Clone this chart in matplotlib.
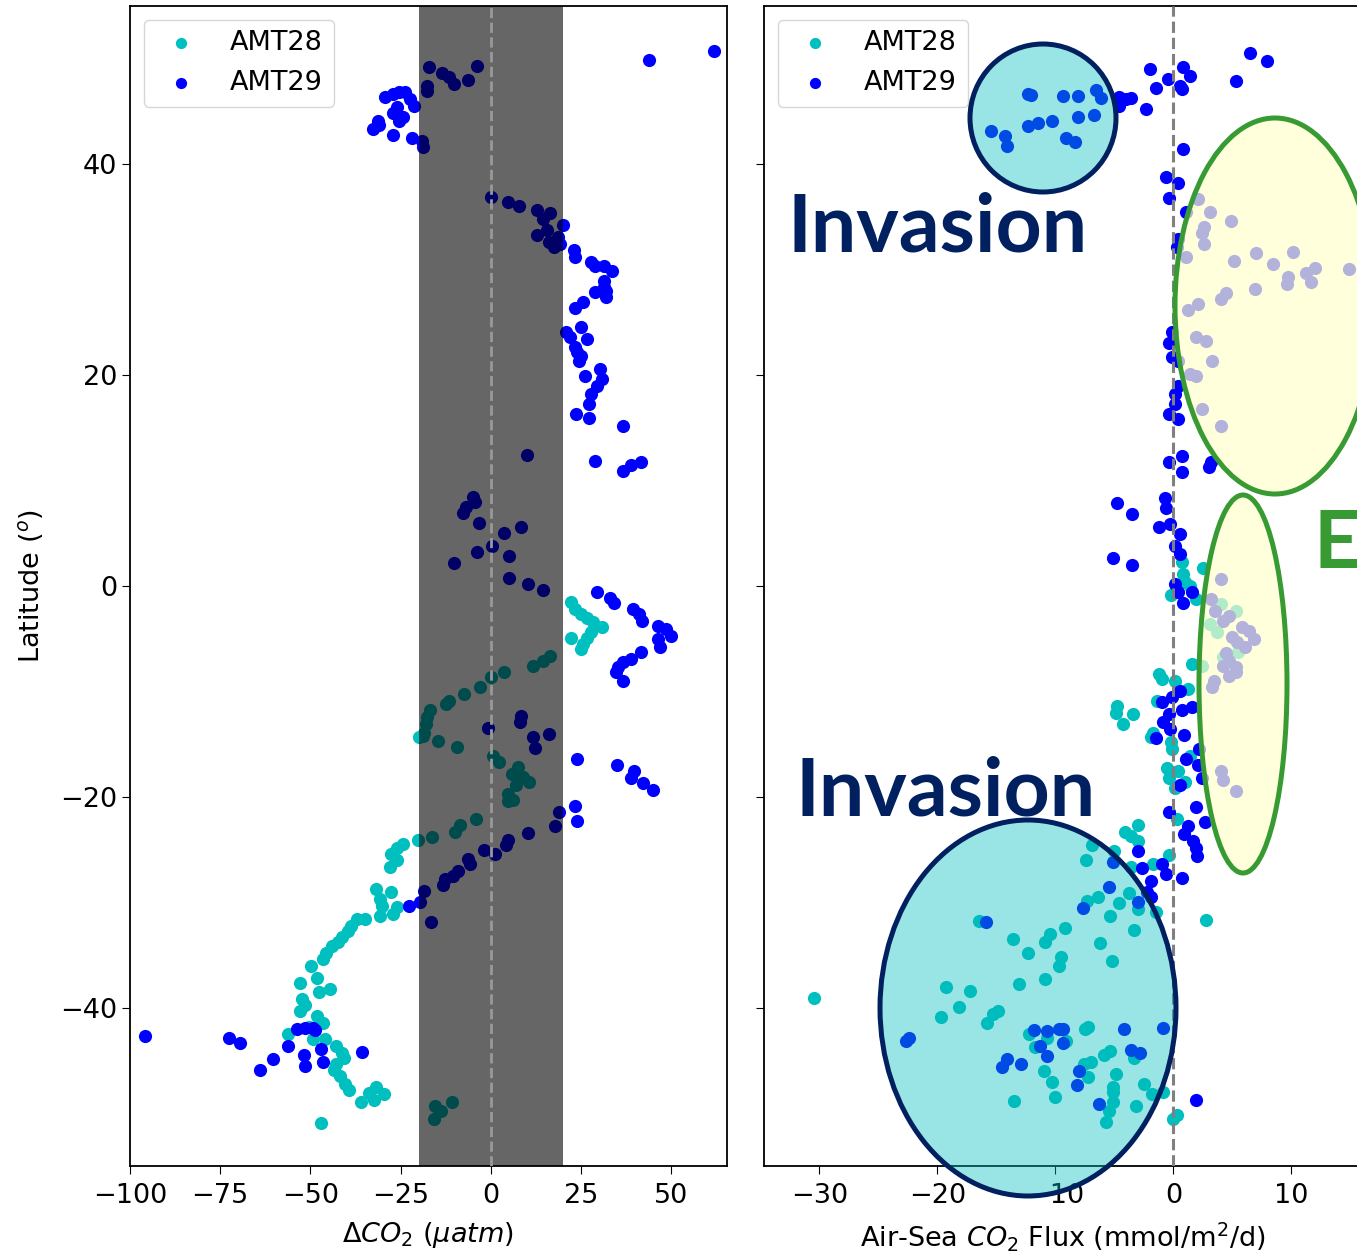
import numpy as np
import matplotlib
matplotlib.use("Agg")
from matplotlib import pyplot as plt
from matplotlib.patches import Ellipse

# (dCO2 [uatm], latitude)
amt29_dco2 = np.array([
    (61.8, 50.7), (43.7, 49.9),
    (-17.2, 49.2), (-13.5, 48.6), (-11.7, 48.3), (-10.3, 47.6), (-6.4, 48.0), (-4.0, 49.3), (-17.8, 47.4), (-17.6, 46.9),
    (-29.3, 46.4), (-27.1, 46.7), (-25.5, 46.8), (-23.9, 46.8), (-22.3, 46.2), (-21.3, 45.5), (-26.0, 45.4), (-27.1, 44.9),
    (-24.5, 44.5), (-25.5, 44.1), (-31.4, 44.1), (-30.9, 43.7), (-32.7, 43.3), (-27.1, 42.8), (-21.8, 42.5), (-19.1, 42.2), (-18.8, 41.6),
    (0.0, 36.9), (4.6, 36.4), (7.8, 36.0), (12.8, 35.7), (16.3, 35.4), (14.4, 34.8), (15.4, 33.8), (12.8, 33.3), (16.0, 32.6),
    (17.6, 32.1), (18.6, 33.1), (19.1, 32.4),
    (20.0, 34.2), (22.9, 31.9), (23.4, 31.2), (27.7, 30.7), (28.7, 30.3), (31.4, 30.3), (33.5, 29.9), (31.4, 28.9), (31.2, 28.4),
    (28.7, 27.9), (31.9, 28.0), (31.9, 27.4), (25.5, 26.9), (23.4, 26.4), (25.0, 24.6), (20.7, 24.1), (21.8, 23.6), (26.6, 23.4),
    (23.4, 22.7), (23.9, 22.2), (25.0, 21.8), (24.5, 21.3), (30.3, 20.6), (26.1, 19.9), (30.9, 19.6), (29.3, 19.0), (27.7, 18.2),
    (27.1, 17.3), (23.7, 16.3), (27.1, 15.9), (36.7, 15.2), (28.7, 11.9), (36.7, 10.9), (38.8, 11.5), (41.5, 11.8), (10.1, 12.4),
    (-5.1, 8.4), (-4.3, 8.0), (-6.9, 7.5), (-7.8, 6.9), (-3.2, 6.0), (3.7, 5.0), (8.2, 5.6), (0.3, 3.8), (-4.0, 3.2), (5.0, 2.8),
    (-10.1, 2.2), (5.1, 0.8), (10.2, 0.2), (14.4, -0.4),
    (29.5, -0.6), (33.0, -1.1), (34.0, -1.6), (39.4, -2.2), (41.0, -2.7), (41.8, -3.3), (46.3, -3.8), (48.4, -4.1), (50.0, -4.7),
    (46.3, -5.0), (46.8, -5.8), (41.5, -6.3), (38.8, -6.9), (36.7, -7.2), (35.1, -7.7), (34.6, -8.2), (36.7, -9.0),
    (8.2, -12.3), (8.0, -12.9), (-0.7, -13.5), (11.7, -14.3), (16.0, -14.0), (12.2, -15.4),
    (23.9, -16.4), (34.8, -17.0), (39.7, -17.5), (38.8, -18.2), (42.0, -18.7), (45.0, -19.3),
    (23.3, -20.9), (23.8, -22.3), (18.8, -21.4), (17.7, -22.8), (10.4, -23.4), (4.8, -24.1), (4.2, -24.6), (1.1, -25.4),
    (-1.8, -25.0), (-6.4, -25.9), (-5.8, -26.4), (-9.0, -27.0), (-10.6, -27.5), (-12.7, -27.8), (-13.2, -28.4), (-18.5, -28.9),
    (-19.6, -30.0), (-22.8, -30.3), (-16.7, -31.9),
    (-95.9, -42.7), (-72.6, -42.9), (-69.4, -43.3), (-53.8, -42.0), (-51.4, -41.9), (-49.3, -41.9), (-48.7, -42.1), (-56.1, -43.6),
    (-51.9, -44.5), (-51.4, -45.5), (-47.1, -43.9), (-46.6, -45.1), (-60.4, -44.9), (-63.9, -45.9), (-35.8, -44.2),
])

amt28_dco2 = np.array([
    (22.3, -1.5), (23.4, -2.2), (25.0, -2.7), (26.6, -3.0), (28.2, -3.4), (30.9, -3.9), (27.7, -4.4), (26.6, -4.9), (25.5, -5.5),
    (25.0, -6.0), (22.3, -4.9),
    (16.5, -6.6), (14.4, -7.1), (11.7, -7.6), (3.7, -8.2), (0.0, -8.6), (-2.9, -9.6), (-7.4, -10.2), (-11.7, -10.9), (-12.4, -11.2),
    (-17.0, -11.8), (-17.6, -12.4), (-18.1, -13.1), (-18.6, -13.9), (-18.8, -14.2), (-14.6, -14.7), (-9.3, -15.3), (-20.0, -14.3),
    (0.5, -16.1), (2.1, -16.7), (7.4, -17.2), (5.9, -17.8), (9.0, -18.1), (10.6, -18.6), (6.9, -18.9), (4.8, -19.7), (6.0, -20.3),
    (-20.1, -24.1), (-16.4, -23.8), (-10.0, -23.3), (-8.5, -22.7), (-4.2, -22.1), (4.8, -20.4),
    (-24.4, -24.5), (-26.0, -24.8), (-27.6, -25.4), (-26.0, -26.0), (-28.0, -26.6),
    (-31.8, -28.7), (-27.6, -29.0), (-30.7, -29.7), (-30.2, -30.3), (-26.0, -30.4), (-30.7, -31.3), (-27.0, -31.1),
    (-35.0, -31.6), (-37.1, -31.6), (-38.7, -32.2), (-39.7, -32.7), (-41.3, -33.3), (-42.4, -33.8), (-44.0, -34.1), (-45.6, -34.8),
    (-46.6, -35.4), (-49.8, -36.0), (-48.2, -37.2), (-53.0, -37.6), (-47.7, -38.5), (-44.5, -38.2), (-52.4, -39.2), (-51.4, -39.7),
    (-53.0, -40.3), (-48.2, -40.8), (-46.6, -41.4), (-50.3, -41.8), (-56.1, -42.5), (-49.3, -43.0), (-46.1, -43.0), (-42.9, -43.6),
    (-41.3, -44.3), (-40.8, -44.8), (-42.9, -45.3), (-43.4, -45.9), (-41.8, -46.5), (-40.3, -47.2), (-39.2, -47.8), (-31.8, -47.5),
    (-33.9, -48.1), (-36.0, -48.9), (-29.7, -48.2), (-32.3, -48.7), (-47.1, -50.9),
    (-15.4, -49.3), (-13.8, -49.8), (-10.9, -48.9), (-15.9, -50.5),
])

# (flux [mmol/m2/d], latitude)
amt29_flux = np.array([
    (-12.3, 46.7), (-12.1, 46.6), (-9.4, 46.5), (-8.1, 46.5), (-6.6, 47.0), (-6.1, 46.3), (-8.1, 44.5), (-6.7, 44.7), (-10.3, 44.1),
    (-11.5, 43.9), (-12.3, 43.6), (-15.5, 43.1), (-14.3, 42.7), (-14.1, 41.7), (-9.1, 42.5), (-8.3, 42.1),
    (-4.6, 46.4), (-4.0, 46.2), (-3.6, 46.3), (-4.6, 45.5), (-2.3, 45.2), (-2.0, 49.0), (-1.5, 47.2), (-0.5, 48.1), (0.85, 49.2),
    (1.4, 48.4), (0.6, 47.4), (0.75, 47.1), (5.3, 47.9), (6.5, 50.5), (7.9, 49.8), (0.8, 41.4), (-0.6, 38.8), (0.4, 38.2), (-0.4, 36.8),
    (1.1, 35.5), (0.4, 32.9), (0.3, 32.1), (-0.1, 24.1), (-0.4, 23.0), (-0.1, 21.7), (0.4, 21.3), (0.4, 19.0), (0.1, 18.2),
    (2.1, 36.7), (3.1, 35.5), (4.9, 34.6), (2.6, 34.0), (2.4, 33.5), (2.6, 32.4), (1.1, 31.2), (5.1, 30.8), (7.0, 31.6), (8.4, 30.5),
    (10.1, 31.7), (9.7, 29.3), (9.6, 28.6), (11.2, 29.7), (12.0, 30.2), (11.7, 28.8), (14.9, 30.1), (6.9, 28.2), (4.5, 27.8),
    (4.0, 27.2), (2.1, 26.7), (1.2, 26.2), (1.9, 23.6), (2.8, 23.2), (3.3, 21.3), (1.4, 20.1), (1.9, 19.9),
    (0.1, 17.3), (-0.4, 16.3), (0.4, 15.8), (3.0, 11.3), (3.2, 11.8), (0.75, 12.3), (-0.4, 11.8), (0.75, 10.8), (-4.8, 7.9),
    (-3.5, 6.8), (-0.7, 8.3), (-0.6, 7.4), (-1.2, 5.6), (-0.3, 5.9), (0.6, 4.9), (0.1, 3.8), (0.6, 3.0), (-5.1, 2.7), (-3.5, 2.0),
    (0.1, 0.2), (0.4, -0.6), (1.6, -0.6), (0.8, -1.6), (0.6, -10.0), (-0.1, -10.5), (-1.0, -11.0), (0.7, -11.8), (1.6, -11.5),
    (-0.4, -12.1), (-0.9, -12.9), (-0.3, -13.6), (-1.5, -14.4), (0.9, -14.1), (2.2, -15.5), (1.1, -16.4), (2.1, -17.0),
    (2.4, -18.2), (0.6, -18.9), (4.0, 15.2), (2.4, 16.8),
    (4.0, 0.7), (3.2, -1.2), (3.5, -2.4), (4.2, -3.3), (4.7, -2.8), (5.8, -3.9), (6.4, -4.3), (6.8, -5.0), (6.1, -5.8), (5.0, -4.8),
    (5.4, -5.3), (4.5, -6.4), (4.7, -7.1), (4.2, -7.6), (5.3, -7.7), (4.7, -8.5), (5.3, -8.2), (3.4, -9.0), (3.3, -9.6),
    (4.0, -17.5), (4.2, -18.4), (5.3, -19.4),
    (-0.4, -21.4), (1.9, -21.0), (2.7, -22.4), (0.9, -23.5), (1.2, -22.8), (1.7, -24.2), (1.9, -24.8), (2.0, -25.6), (-3.0, -25.1),
    (-2.7, -26.7), (-1.0, -26.4), (-0.6, -27.3), (0.75, -27.7), (-1.9, -28.0), (-2.2, -29.0), (-1.9, -29.5), (1.9, -48.7),
    (-5.1, -26.2), (-5.5, -28.5), (-7.7, -30.5), (-3.0, -30.0), (-15.9, -31.9), (-22.4, -42.9), (-22.7, -43.1), (-11.8, -42.1),
    (-10.7, -42.2), (-9.7, -42.0), (-9.4, -42.0), (-11.3, -43.6), (-9.4, -43.3), (-10.7, -44.6), (-14.1, -44.9), (-14.5, -45.6),
    (-12.9, -45.3), (-8.0, -46.0), (-8.2, -47.3), (-6.3, -49.1), (-4.2, -42.0), (-3.6, -44.0), (-2.8, -44.3), (-0.9, -41.9),
])

amt28_flux = np.array([
    (4.0, -1.7), (5.3, -2.4), (3.1, -3.6), (3.7, -4.4), (5.5, -6.3), (4.2, -6.7), (2.4, -7.6),
    (0.75, 2.3), (0.8, 1.1), (1.0, 0.4), (1.4, 0.0), (2.5, 1.7), (-0.2, -0.9), (1.9, -1.2), (1.6, -7.4), (-1.2, -8.3), (-1.0, -8.8),
    (0.1, -9.0), (1.2, -9.8), (-1.4, -10.9), (-4.8, -11.4), (-4.9, -12.0), (-3.4, -12.1), (-4.3, -13.1), (-1.7, -13.9),
    (-1.9, -14.3), (-0.2, -14.8), (-0.1, -15.5), (1.4, -16.1), (-0.55, -17.3), (0.4, -17.5), (-0.4, -18.2), (1.0, -18.6), (0.1, -19.2),
    (-3.0, -22.7), (-4.1, -23.3), (-3.6, -23.7), (-3.0, -24.2), (-5.0, -25.1), (-6.9, -24.6), (-7.4, -26.0), (-3.6, -26.6),
    (-1.7, -26.4), (-0.4, -25.5), (0.3, -22.1), (-3.8, -29.1), (-4.6, -30.1), (-6.4, -29.5), (-7.3, -29.9), (-5.4, -31.3),
    (-3.0, -30.6), (-1.5, -30.9), (-3.3, -32.6), (2.8, -31.7), (-9.2, -32.4), (-10.5, -33.0), (-10.9, -33.8), (-13.6, -33.5),
    (-12.3, -34.8), (-6.2, -33.9), (-9.5, -35.2), (-9.7, -36.0), (-5.2, -35.6), (-10.9, -37.3), (-13.1, -37.7), (-17.2, -38.4),
    (-19.3, -38.0), (-18.2, -39.9), (-19.7, -40.9), (-14.9, -40.3), (-15.3, -40.6), (-15.8, -41.4), (-30.5, -39.1), (-16.5, -31.8),
    (-12.2, -42.5), (-11.7, -43.7), (-10.7, -42.9), (-9.1, -43.1), (-7.5, -42.0), (-7.2, -41.8), (-5.9, -44.5), (-5.4, -44.1),
    (-7.6, -45.3), (-7.0, -45.1), (-7.2, -46.6), (-11.0, -46.0), (-10.3, -47.0), (-10.0, -48.5), (-13.5, -48.8), (-4.9, -46.3),
    (-5.1, -47.5), (-5.1, -48.0), (-2.5, -47.2), (-1.8, -48.2), (-0.9, -48.0), (-3.2, -49.3), (-5.1, -48.9), (-5.5, -49.8),
    (-5.7, -50.8), (0.0, -50.5), (0.3, -50.2), (-3.3, -44.8),
])

plt.rcParams["font.size"] = 19.5
plt.rcParams["axes.linewidth"] = 1.3
plt.rcParams["xtick.major.size"] = 5.5
plt.rcParams["ytick.major.size"] = 5.5
plt.rcParams["xtick.major.pad"] = 7

W, H = 1357, 1253
fig = plt.figure(figsize=(W / 100, H / 100), dpi=100)
ax1 = fig.add_axes([130 / W, 87 / H, 597 / W, 1160 / H])
ax2 = fig.add_axes([764 / W, 87 / H, 597 / W, 1160 / H], sharey=ax1)

ms = 90
# left: delta CO2
ax1.scatter(amt28_dco2[:, 0], amt28_dco2[:, 1], s=ms, c="c", lw=0, label="AMT28", zorder=2)
ax1.scatter(amt29_dco2[:, 0], amt29_dco2[:, 1], s=ms, c="b", lw=0, label="AMT29", zorder=2)
ax1.axvspan(-20, 20, color="k", alpha=0.6, lw=0, zorder=3)
ax1.axvline(0, color="0.6", ls="--", lw=2, zorder=4)
ax1.set_xlim(-100, 65.4)
ax1.set_ylim(-55, 55)
ax1.set_xticks([-100, -75, -50, -25, 0, 25, 50])
ax1.set_yticks([-40, -20, 0, 20, 40])
ax1.set_xlabel(r"$\Delta CO_2$ ($\mu atm$)", labelpad=8)
ax1.set_ylabel(r"Latitude ($^o$)", labelpad=10)
ax1.legend(loc="upper left", markerscale=0.85)

# right: air-sea flux
ax2.scatter(amt28_flux[:, 0], amt28_flux[:, 1], s=ms, c="c", lw=0, label="AMT28", zorder=2)
ax2.scatter(amt29_flux[:, 0], amt29_flux[:, 1], s=ms, c="b", lw=0, label="AMT29", zorder=2)
ax2.axvline(0, color="0.5", ls="--", lw=2.2, zorder=4)
ax2.set_xlim(-34.7, 15.9)
ax2.set_xticks([-30, -20, -10, 0, 10])
ax2.tick_params(axis="y", labelleft=False)
ax2.set_xlabel(r"Air-Sea $CO_2$ Flux (mmol/m$^2$/d)", labelpad=8)
ax2.legend(loc="upper left", markerscale=0.85)

# slide annotations on top, in pixel space
ov = fig.add_axes([0, 0, 1, 1], zorder=10)
ov.set_xlim(0, W)
ov.set_ylim(H, 0)
ov.axis("off")
navy = "#002060"
green = "#379A32"
teal_fill = (0.0, 0.737, 0.737, 0.4)
yellow_fill = (1.0, 1.0, 0.8, 0.7)
ov.add_patch(Ellipse((1043, 118), 146, 148, fc=teal_fill, ec=navy, lw=3.6))
ov.add_patch(Ellipse((1028, 1008), 296, 376, fc=teal_fill, ec=navy, lw=3.6))
ov.add_patch(Ellipse((1275, 306), 200, 376, fc=yellow_fill, ec=green, lw=3.6))
ov.add_patch(Ellipse((1243, 684), 88, 378, fc=yellow_fill, ec=green, lw=3.6))
ov.text(788, 252, "Invasion", color=navy, fontsize=58, fontweight="bold", family="Lato", va="baseline")
ov.text(795, 815, "Invasion", color=navy, fontsize=58, fontweight="bold", family="Lato", va="baseline")
ov.text(1314, 567, "Evasion", color=green, fontsize=58, fontweight="bold", family="Lato", va="baseline")

fig.savefig("out.png", dpi=100)
